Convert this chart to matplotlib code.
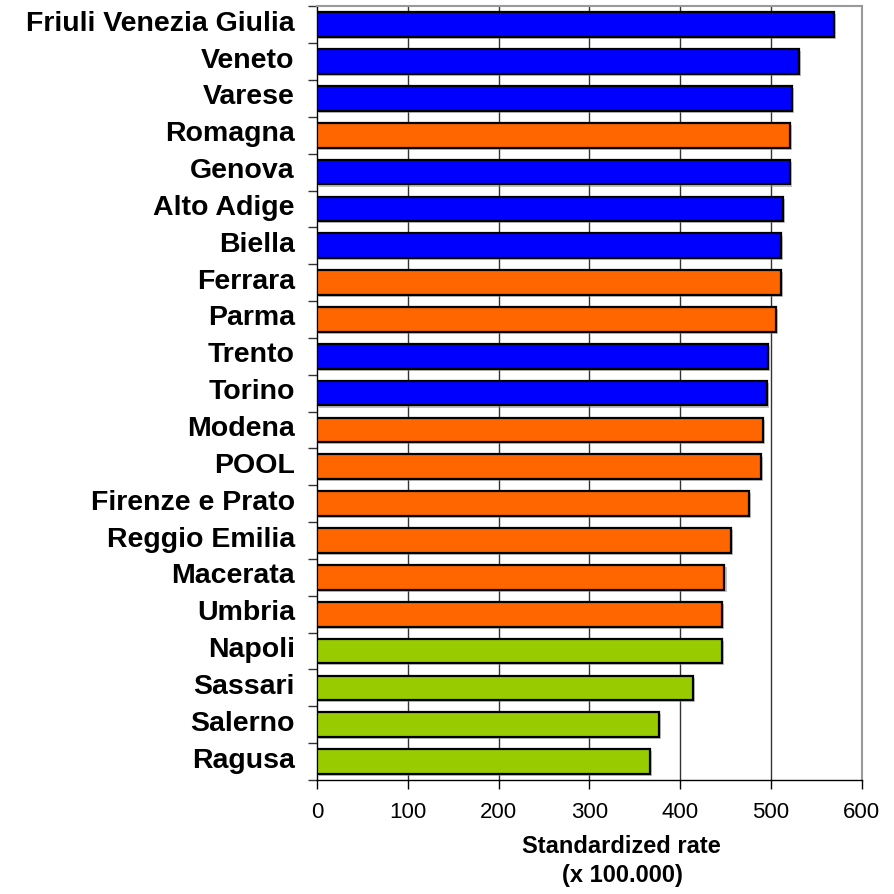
import matplotlib
matplotlib.use("Agg")
import matplotlib.pyplot as plt
import matplotlib.patheffects as pe
import matplotlib.transforms as mtransforms
import numpy as np

plt.rcParams['font.family'] = ['Liberation Sans', 'DejaVu Sans']

categories = ["Friuli Venezia Giulia", "Veneto", "Varese", "Romagna", "Genova",
              "Alto Adige", "Biella", "Ferrara", "Parma", "Trento", "Torino",
              "Modena", "POOL", "Firenze e Prato", "Reggio Emilia", "Macerata",
              "Umbria", "Napoli", "Sassari", "Salerno", "Ragusa"]
values = [570, 531, 523, 521, 521, 513, 511, 511, 506, 497, 496,
          491, 489, 476, 456, 449, 446, 446, 414, 377, 367]
groups = ["N", "N", "N", "C", "N", "N", "N", "C", "C", "N", "N",
          "C", "C", "C", "C", "C", "C", "S", "S", "S", "S"]
group_colors = {"N": "#0000FF", "C": "#FF6600", "S": "#99CC00"}
xticks = [0, 100, 200, 300, 400, 500, 600]

fig = plt.figure(figsize=(8.95, 8.95), dpi=100)
ax = fig.add_axes([317/895, 1-781/895, 544.5/895, (781-7.3)/895])

n = len(categories)
ypos = np.arange(n)
colors = [group_colors[g] for g in groups]
bars = ax.barh(ypos, values, height=0.67, color=colors, edgecolor="black",
               linewidth=1.6, zorder=3)
for b in bars:
    b.set_path_effects([pe.SimplePatchShadow(offset=(1.5, -1.5), shadow_rgbFace="#888888", alpha=0.5),
                        pe.Normal()])

ax.set_ylim(n - 0.5, -0.5)
ax.set_xlim(0, 600)

# vertical gridlines
for xv in xticks[1:-1]:
    ax.axvline(xv, color="#333333", linewidth=1.0, zorder=1)

# spines
ax.spines['left'].set_color("black")
ax.spines['bottom'].set_color("black")
ax.spines['left'].set_linewidth(1.0)
ax.spines['bottom'].set_linewidth(1.0)
ax.spines['top'].set_color("#999999")
ax.spines['right'].set_color("#999999")
ax.spines['top'].set_linewidth(1.5)
ax.spines['right'].set_linewidth(1.5)

# y ticks: boundaries as major ticks, labels on minor ticks
ax.set_yticks(np.arange(-0.5, n, 1.0))
ax.set_yticklabels([])
ax.set_yticks(ypos, minor=True)
ax.set_yticklabels(categories, minor=True, fontsize=20.5, fontweight="bold")
ax.tick_params(axis='y', which='major', direction='out', length=6.5, width=1.0, color="#333333")
ax.tick_params(axis='y', which='minor', length=0, pad=16)
shift = mtransforms.ScaledTranslation(0, 5/100, fig.dpi_scale_trans)
for lab in ax.get_yticklabels(minor=True):
    lab.set_transform(lab.get_transform() + shift)

ax.set_xticks(xticks)
ax.set_xticklabels([str(x) for x in xticks], fontsize=16)
ax.tick_params(axis='x', direction='out', length=6.5, width=1.0, pad=8.5)

fig.text(621/895, 1-847/895, "Standardized rate", ha="center", va="center",
         fontsize=17, fontweight="bold")
fig.text(622/895, 1-876/895, "(x 100.000)", ha="center", va="center",
         fontsize=17, fontweight="bold")

fig.savefig("out.png", dpi=100)
